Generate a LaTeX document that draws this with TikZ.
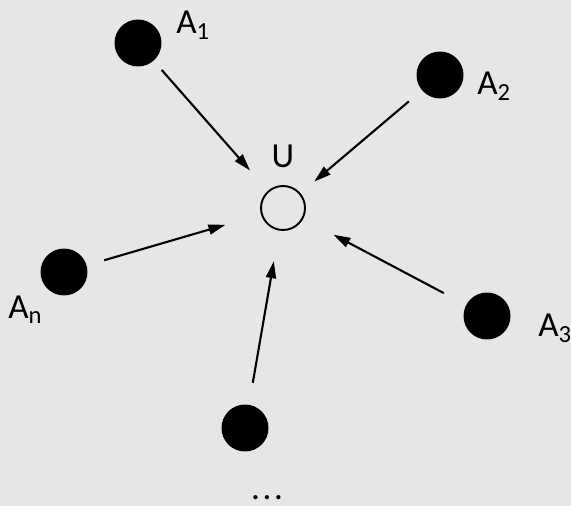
\documentclass[tikz,border=0pt]{standalone}
\usepackage{fontspec}
\setmainfont{Carlito}
\usetikzlibrary{arrows.meta}
\definecolor{paper}{RGB}{229,231,229}

\begin{document}
\begin{tikzpicture}[x=0.02cm, y=-0.02cm,
        agent/.style={circle, fill=black, minimum size=0.94cm, inner sep=0pt},
        user/.style={circle, draw, line width=1.1pt, minimum size=0.88cm, inner sep=0pt},
        lab/.style={font=\fontsize{20}{24}\selectfont, inner sep=0pt},
        link/.style={-{Triangle[length=3.4mm, width=2mm]}, line width=1.2pt}
    ]
    \fill[paper] (0,0) rectangle (571,506);
    \useasboundingbox (0,0) rectangle (571,506);

    % the user in the middle
    \node[user] (u) at (283,208) {};
    \node[lab, anchor=base] (ulab) at (283,168) {U};

    % agents around it
    \node[agent] (a1) at (138,43) {};
    \node[agent] (a2) at (440,75) {};
    \node[agent] (an) at (64,272) {};
    \node[agent] (a3) at (487,316) {};
    \node[agent] (ak) at (245,428) {};

    \node[lab, anchor=base west] (a1lab) at (176,34) {A\textsubscript{1}};
    \node[lab, anchor=base west] (a2lab) at (477,95) {A\textsubscript{2}};
    \node[lab, anchor=base west] (anlab) at (8,318) {A\textsubscript{n}};
    \node[lab, anchor=base west] (a3lab) at (538,337) {A\textsubscript{3}};
    \node[lab, anchor=base] (dots) at (267,499) {.\kern1.5pt.\kern1.5pt.};

    \draw[link, shorten <=0.24cm, shorten >=0.54cm] (a1) -- (u);
    \draw[link, shorten <=0.34cm, shorten >=0.36cm] (a2) -- (u);
    \draw[link, shorten <=0.36cm, shorten >=0.74cm] (an) -- (u);
    \draw[link, shorten <=0.50cm, shorten >=0.68cm] (a3) -- (u);
    \draw[link, shorten <=0.44cm, shorten >=0.62cm] (ak) -- (u);
\end{tikzpicture}
\end{document}
